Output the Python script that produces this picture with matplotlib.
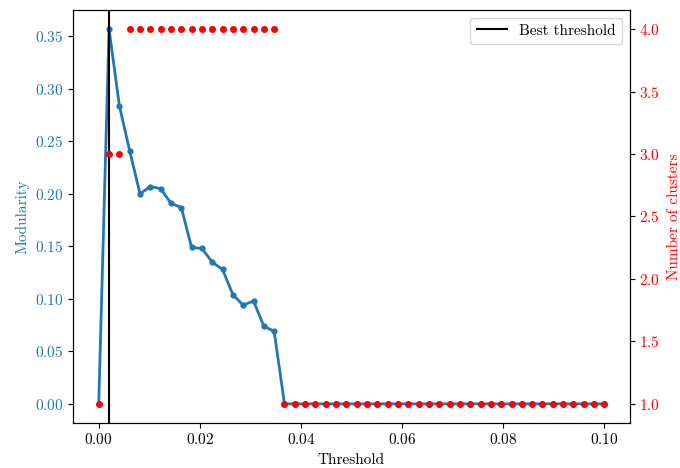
import numpy as np
import matplotlib.pyplot as plt

plt.rcParams["font.family"] = "serif"
plt.rcParams["font.serif"] = ["cmr10"]
plt.rcParams["mathtext.fontset"] = "cm"
plt.rcParams["axes.formatter.use_mathtext"] = True
plt.rcParams["font.size"] = 11

thresholds = np.linspace(0, 0.1, 50)

modularity = [
    0.0, 0.357, 0.284, 0.241, 0.200, 0.207, 0.205, 0.191, 0.187, 0.149,
    0.148, 0.135, 0.128, 0.104, 0.094, 0.098, 0.074, 0.069,
] + [0.0] * 32

n_clusters = [1, 3, 3] + [4] * 15 + [1] * 32

best_idx = int(np.argmax(modularity))

fig, ax1 = plt.subplots(figsize=(6.8, 4.68), dpi=100)
fig.subplots_adjust(left=0.108, right=0.926, top=0.978, bottom=0.097)

ax1.plot(thresholds, modularity, "o-", color="tab:blue", linewidth=2, markersize=3.5)
ax1.axvline(thresholds[best_idx], color="black", label="Best threshold")
ax1.set_xlabel("Threshold")
ax1.set_ylabel("Modularity", color="tab:blue")
ax1.tick_params(axis="y", labelcolor="tab:blue")
ax1.legend(loc="upper right")

ax2 = ax1.twinx()
ax2.plot(thresholds, n_clusters, "o", color="red", markersize=4)
ax2.set_ylabel("Number of clusters", color="red", labelpad=5)
ax2.tick_params(axis="y", labelcolor="red")

plt.savefig("out.png", dpi=100)
